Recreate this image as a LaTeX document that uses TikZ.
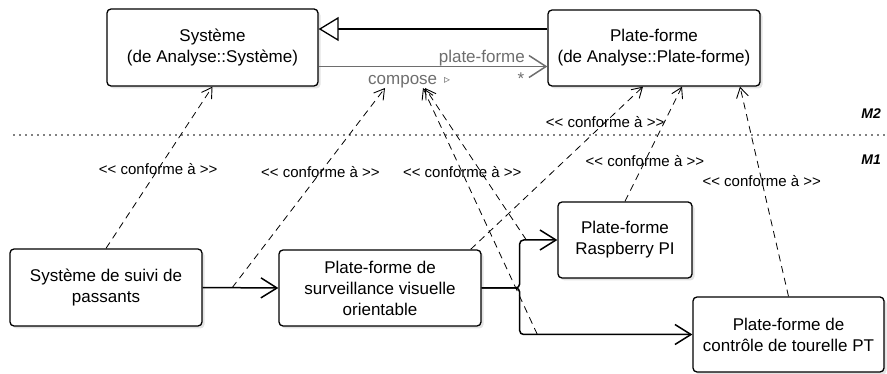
\documentclass[tikz,border=0pt]{standalone}
\usepackage{fontspec}
\setmainfont{Liberation Sans}
\newfontfamily\symfont{DejaVu Sans}
\usetikzlibrary{arrows.meta,shadows,calc}
\definecolor{assocgray}{HTML}{6E6E6E}
\newcommand\ltlt{<\kern0pt<}
\newcommand\gtgt{>\kern0pt>}
\begin{document}
\begin{tikzpicture}[x=1pt,y=-1pt,
  box/.style={draw, line width=1.3pt, rounded corners=4pt, fill=white, align=center,
    font=\fontsize{17}{21}\selectfont, inner sep=0pt,
    drop shadow={shadow xshift=2.5pt, shadow yshift=-2.5pt, opacity=0.22}},
  conn/.style={line width=1.5pt, -{Straight Barb[length=16pt, width=20pt]}},
  assoc/.style={draw=assocgray, line width=1.5pt, -{Straight Barb[length=17pt, width=22pt]}},
  gener/.style={line width=1.8pt, -{Triangle[open, length=20pt, width=24pt, line width=1.3pt, fill=white]}},
  conf/.style={line width=0.8pt, dash pattern=on 7pt off 5pt, -{Straight Barb[length=10pt, width=12pt, line width=0.9pt]}},
  clabel/.style={font=\fontsize{15}{15}\selectfont, inner sep=0pt},
  glabel/.style={text=assocgray, font=\fontsize{17}{17}\selectfont, inner sep=0pt},
  mlabel/.style={font=\bfseries\itshape\fontsize{14}{14}\selectfont, inner sep=0pt}]
\useasboundingbox (0,0) rectangle (887,374);

% boxes
\node[box, minimum width=211pt, minimum height=77pt] (sys) at (212.5,47.5) {Système\\(de Analyse::Système)};
\node[box, minimum width=212pt, minimum height=76pt] (pf) at (654,48) {Plate-forme\\(de Analyse::Plate-forme)};
\node[box, minimum width=192pt, minimum height=77pt] (suivi) at (106,287.5) {Système de suivi de\\passants};
\node[box, minimum width=202pt, minimum height=76pt] (surv) at (380,288) {Plate-forme de\\surveillance visuelle\\orientable};
\node[box, minimum width=134pt, minimum height=76pt] (rasp) at (625,240) {Plate-forme\\Raspberry PI};
\node[box, minimum width=191pt, minimum height=75pt] (tour) at (788.5,334.5) {Plate-forme de\\contrôle de tourelle PT};

% M2 / M1 separator
\coordinate (dl) at (14,135);
\coordinate (dr) at (884,135);
\draw[line width=1.8pt, line cap=round, dash pattern=on 0pt off 6pt] (dl) -- (dr);
\node[mlabel, anchor=base east] (m2) at (881,119) {M2};
\node[mlabel, anchor=base east] (m1) at (881,165) {M1};

% generalization and association
\draw[gener] ([yshift=19pt]pf.west) -- ([yshift=19pt]pf.west -| sys.east);
\draw[assoc] ([yshift=-19pt]sys.east) -- ([yshift=-19pt]sys.east -| pf.west);
\node[glabel, anchor=base east] (pfl) at (525,63) {plate-forme};
\node[glabel, anchor=base] (mult) at (521,84.5) {*};
\node[glabel, anchor=base west] (compose) at (368,85) {compose};
\node[text=assocgray, inner sep=0pt, anchor=west] (tri) at (444,80) {\symfont\fontsize{12}{12}\selectfont ▹};

% solid connectors
\draw[conn] (suivi.east) -- (surv.west);
\draw[conn, rounded corners=4pt] (surv.east) -- ++(38,0) |- (rasp.west);
\draw[conn, rounded corners=4pt] (surv.east) -- ++(38,0) |- (tour.west);

% points on connectors and on the compose label
\coordinate (k1) at ($(suivi.east)!0.39!(surv.west)$);
\coordinate (kB) at ($(rasp.west)+(-31,0)$);
\coordinate (kA) at ($(tour.west)+(-155,0)$);
\coordinate (t1) at ($(compose.base west)+(17,3)$);
\coordinate (t2) at ($(compose.base west)+(55,3)$);
\coordinate (t3) at ($(compose.base west)+(57,3)$);

% conformance arrows
\draw[conf] (suivi.north) -- node[clabel, pos=.49] {\ltlt{} conforme à \gtgt} (sys.south);
\draw[conf] (k1) -- node[clabel, pos=.577] {\ltlt{} conforme à \gtgt} (t1);
\draw[conf] (kA) -- node[clabel, pos=.657] {\ltlt{} conforme à \gtgt} (t2);
\draw[conf] (kB) -- (t3);
\draw[conf] ([xshift=-11pt]surv.north east) -- node[clabel, pos=.78] {\ltlt{} conforme à \gtgt} ([xshift=-11pt]pf.south);
\draw[conf] (rasp.north) -- node[clabel, pos=.348] {\ltlt{} conforme à \gtgt} ([xshift=28pt]pf.south);
\draw[conf] (tour.north) -- node[clabel, pos=.552] {\ltlt{} conforme à \gtgt} ([xshift=86pt]pf.south);
\end{tikzpicture}
\end{document}
